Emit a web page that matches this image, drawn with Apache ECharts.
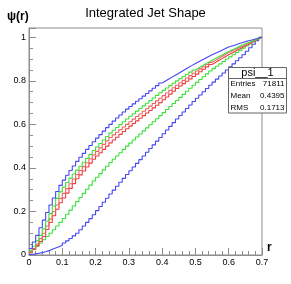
<!DOCTYPE html>
<html>
<head>
<meta charset="utf-8">
<script src="https://cdn.jsdelivr.net/npm/echarts@6/dist/echarts.min.js"></script>
<style>
html,body{margin:0;padding:0;background:#fff;}
#chart{width:291px;height:284px;}
</style>
</head>
<body>
<div id="chart"></div>
<script>
// Bin low edges (bin width 0.01), last entry is the upper edge of the last bin
const binEdges = [0.00,0.01,0.02,0.03,0.04,0.05,0.06,0.07,0.08,0.09,0.10,0.11,0.12,0.13,0.14,0.15,0.16,0.17,0.18,0.19,
0.20,0.21,0.22,0.23,0.24,0.25,0.26,0.27,0.28,0.29,0.30,0.31,0.32,0.33,0.34,0.35,0.36,0.37,0.38,0.39,
0.40,0.41,0.42,0.43,0.44,0.45,0.46,0.47,0.48,0.49,0.50,0.51,0.52,0.53,0.54,0.55,0.56,0.57,0.58,0.59,
0.60,0.61,0.62,0.63,0.64,0.65,0.66,0.67,0.68,0.69,0.70];

const blueTop = [.030,.060,.090,.125,.160,.195,.230,.262,.292,.320,.344,.366,.388,.409,.430,.449,.467,.485,.503,.520,
.537,.553,.569,.585,.600,.615,.629,.643,.657,.670,.682,.694,.706,.718,.730,.742,.754,.766,.778,.790,
.799,.808,.817,.826,.835,.844,.853,.862,.871,.880,.888,.896,.904,.912,.920,.927,.934,.941,.948,.955,
.960,.965,.970,.975,.980,.984,.988,.992,.996,1.000];

const greenTop = [.020,.040,.065,.090,.120,.155,.190,.225,.260,.290,.312,.333,.353,.372,.390,.408,.426,.444,.462,.480,
.496,.512,.528,.544,.560,.573,.586,.599,.612,.625,.637,.649,.661,.673,.685,.697,.709,.721,.733,.745,
.756,.767,.778,.789,.800,.810,.820,.830,.840,.850,.859,.868,.877,.886,.895,.903,.911,.919,.927,.935,
.942,.949,.956,.963,.970,.976,.982,.988,.994,1.000];

const redA = [.015,.030,.050,.075,.100,.133,.166,.199,.230,.260,.283,.305,.327,.349,.370,.388,.406,.424,.442,.460,
.476,.492,.508,.524,.540,.552,.564,.576,.588,.600,.612,.624,.636,.648,.660,.672,.684,.696,.708,.720,
.732,.744,.756,.768,.780,.791,.802,.813,.824,.835,.845,.855,.865,.875,.885,.894,.903,.912,.921,.930,
.937,.944,.951,.958,.965,.972,.979,.986,.993,1.000];

const redB = [.010,.025,.042,.062,.085,.117,.149,.180,.210,.240,.262,.284,.306,.328,.350,.368,.386,.404,.422,.440,
.455,.470,.485,.500,.515,.528,.541,.554,.567,.580,.592,.604,.616,.628,.640,.652,.664,.676,.688,.700,
.713,.726,.739,.752,.765,.776,.787,.798,.809,.820,.831,.842,.853,.864,.875,.884,.893,.902,.911,.920,
.928,.936,.944,.952,.960,.968,.976,.984,.992,1.000];

const greenLow = [.010,.025,.040,.055,.070,.085,.100,.116,.133,.150,.168,.187,.206,.225,.245,.264,.283,.302,.321,.340,
.357,.374,.391,.408,.425,.440,.455,.470,.485,.500,.514,.528,.542,.556,.570,.584,.598,.612,.626,.640,
.654,.668,.682,.696,.710,.724,.738,.752,.766,.780,.793,.806,.819,.832,.845,.856,.867,.878,.889,.900,
.910,.920,.930,.940,.950,.960,.970,.980,.990,1.000];

const blueLow = [.002,.005,.008,.011,.015,.020,.026,.032,.038,.045,.055,.065,.076,.088,.100,.116,.133,.150,.167,.185,
.204,.223,.242,.261,.280,.298,.316,.334,.352,.370,.387,.404,.421,.438,.455,.472,.489,.506,.523,.540,
.557,.574,.591,.608,.625,.641,.657,.673,.689,.705,.720,.735,.750,.765,.780,.794,.808,.822,.836,.850,
.864,.878,.892,.906,.920,.936,.952,.968,.984,1.000];

const xTicks = [0, 0.1, 0.2, 0.3, 0.4, 0.5, 0.6, 0.7];
const yTicks = [0, 0.2, 0.4, 0.6, 0.8, 1];
const statsTitle = 'psi__1';
const statsRows = [['Entries', '71811'], ['Mean', '0.4395'], ['RMS', '0.1713']];

function histData(vals) {
  const d = vals.map((v, i) => [binEdges[i], v]);
  d.push([binEdges[vals.length], vals[vals.length - 1]]);
  return d;
}

const curves = [
  { name: 'blueLow', vals: blueLow, color: '#4646f4' },
  { name: 'greenLow', vals: greenLow, color: '#3ce03c' },
  { name: 'redB', vals: redB, color: '#f03c3c' },
  { name: 'redA', vals: redA, color: '#f26262' },
  { name: 'greenTop', vals: greenTop, color: '#3ce03c' },
  { name: 'blueTop', vals: blueTop, color: '#4646f4' }
];

const chart = echarts.init(document.getElementById('chart'), null, { renderer: 'canvas' });
const font = '"Liberation Sans", Arial, Helvetica, sans-serif';
const frameColor = '#8c8c8c';

const statsGraphics = [
  { type: 'rect', shape: { x: 228.5, y: 67.5, width: 58, height: 45.5 },
    style: { fill: '#fff', stroke: '#666', lineWidth: 1 }, z: 100 },
  { type: 'line', shape: { x1: 228.5, y1: 78.5, x2: 286.5, y2: 78.5 },
    style: { stroke: '#666', lineWidth: 1 }, z: 101 },
  { type: 'text', x: 257.5, y: 73, z: 101,
    style: { text: statsTitle, font: '11px ' + font, fill: '#000', align: 'center', verticalAlign: 'middle' } }
];
statsRows.forEach((r, i) => {
  const y = 84 + i * 12;
  statsGraphics.push({ type: 'text', x: 230.5, y: y, z: 101,
    style: { text: r[0], font: '8px ' + font, fill: '#000', align: 'left', verticalAlign: 'middle' } });
  statsGraphics.push({ type: 'text', x: 284.5, y: y, z: 101,
    style: { text: r[1], font: '8px ' + font, fill: '#000', align: 'right', verticalAlign: 'middle' } });
});

chart.setOption({
  animation: false,
  backgroundColor: '#fff',
  title: {
    text: 'Integrated Jet Shape',
    left: 'center',
    top: 2,
    textStyle: { fontFamily: font, fontSize: 13, fontWeight: 'normal', color: '#000' }
  },
  grid: {
    left: 29, right: 29, top: 28, bottom: 29,
    show: true, borderColor: frameColor, borderWidth: 1, backgroundColor: 'transparent'
  },
  xAxis: {
    type: 'value', min: xTicks[0], max: xTicks[xTicks.length - 1], interval: 0.1,
    axisLine: { show: true, lineStyle: { color: frameColor, width: 1 } },
    axisTick: { show: true, inside: true, length: 7, lineStyle: { color: frameColor } },
    minorTick: { show: true, splitNumber: 5, length: 4, lineStyle: { color: frameColor } },
    splitLine: { show: false },
    axisLabel: { fontFamily: font, fontSize: 9, color: '#000', margin: 3,
      formatter: v => String(+v.toFixed(2)) }
  },
  yAxis: {
    type: 'value', min: yTicks[0], max: 1.0427, interval: 0.2,
    axisLine: { show: true, lineStyle: { color: frameColor, width: 1 } },
    axisTick: { show: true, inside: true, length: 7, lineStyle: { color: frameColor } },
    minorTick: { show: true, splitNumber: 4, length: 4, lineStyle: { color: frameColor } },
    splitLine: { show: false },
    axisLabel: { fontFamily: font, fontSize: 9, color: '#000', margin: 3, showMaxLabel: false,
      formatter: v => (v > 1.001 ? '' : String(+v.toFixed(2))) }
  },
  graphic: [
    { type: 'text', left: 7, top: 11,
      style: { text: 'ψ(r)', font: 'bold 12px ' + font, fill: '#000' } },
    { type: 'text', left: 267, top: 242,
      style: { text: 'r', font: 'bold 12px ' + font, fill: '#000' } }
  ].concat(statsGraphics),
  series: curves.map(c => ({
    name: c.name,
    type: 'line',
    step: 'end',
    data: histData(c.vals),
    symbol: 'none',
    lineStyle: { color: c.color, width: 1.1 },
    silent: true
  }))
});
</script>
</body>
</html>
